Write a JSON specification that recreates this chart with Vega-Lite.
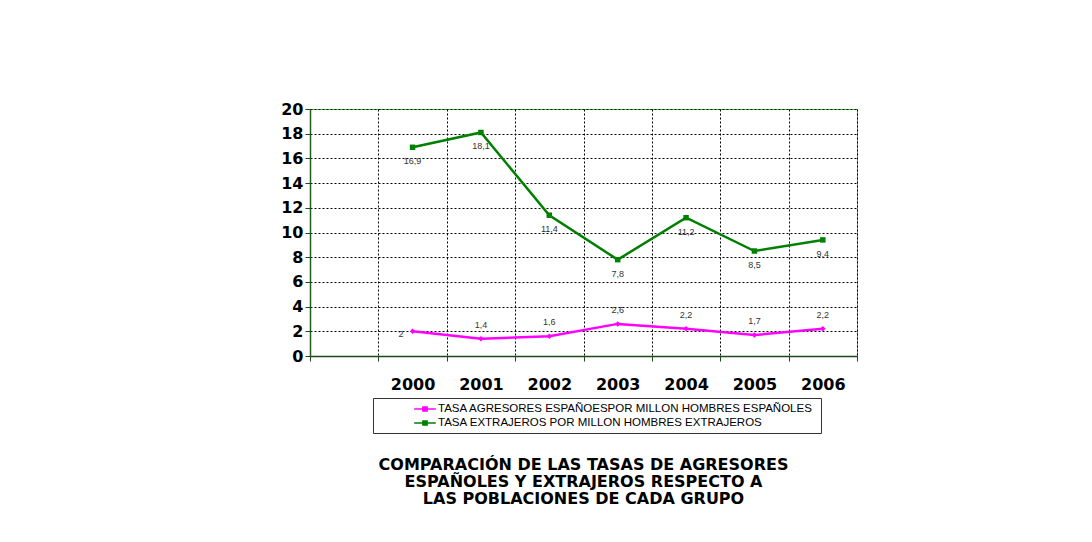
{
  "$schema": "https://vega.github.io/schema/vega-lite/v6.json",
  "autosize": {"type": "none"},
  "width": 547,
  "height": 247,
  "padding": {"left": 310, "top": 109, "right": 235, "bottom": 186},
  "background": "white",
  "config": {
    "locale": {"number": {"decimal": ",", "thousands": ".", "grouping": [3], "currency": ["", " €"]}},
    "view": {"stroke": "#22DD22", "strokeWidth": 1},
    "font": "Liberation Sans"
  },
  "title": {
    "text": ["COMPARACIÓN DE LAS TASAS DE AGRESORES", "ESPAÑOLES Y EXTRAJEROS RESPECTO A", "LAS POBLACIONES DE CADA GRUPO"],
    "orient": "bottom",
    "frame": "group",
    "anchor": "middle",
    "offset": 23,
    "font": "DejaVu Sans",
    "fontSize": 16,
    "fontWeight": "bold",
    "lineHeight": 17,
    "color": "black"
  },
  "data": {
    "values": [
      {"year": "2000", "serie": "TASA  AGRESORES ESPAÑOESPOR MILLON HOMBRES ESPAÑOLES", "value": 2},
      {"year": "2001", "serie": "TASA  AGRESORES ESPAÑOESPOR MILLON HOMBRES ESPAÑOLES", "value": 1.4},
      {"year": "2002", "serie": "TASA  AGRESORES ESPAÑOESPOR MILLON HOMBRES ESPAÑOLES", "value": 1.6},
      {"year": "2003", "serie": "TASA  AGRESORES ESPAÑOESPOR MILLON HOMBRES ESPAÑOLES", "value": 2.6},
      {"year": "2004", "serie": "TASA  AGRESORES ESPAÑOESPOR MILLON HOMBRES ESPAÑOLES", "value": 2.2},
      {"year": "2005", "serie": "TASA  AGRESORES ESPAÑOESPOR MILLON HOMBRES ESPAÑOLES", "value": 1.7},
      {"year": "2006", "serie": "TASA  AGRESORES ESPAÑOESPOR MILLON HOMBRES ESPAÑOLES", "value": 2.2},
      {"year": "2000", "serie": "TASA EXTRAJEROS POR MILLON HOMBRES EXTRAJEROS", "value": 16.9},
      {"year": "2001", "serie": "TASA EXTRAJEROS POR MILLON HOMBRES EXTRAJEROS", "value": 18.1},
      {"year": "2002", "serie": "TASA EXTRAJEROS POR MILLON HOMBRES EXTRAJEROS", "value": 11.4},
      {"year": "2003", "serie": "TASA EXTRAJEROS POR MILLON HOMBRES EXTRAJEROS", "value": 7.8},
      {"year": "2004", "serie": "TASA EXTRAJEROS POR MILLON HOMBRES EXTRAJEROS", "value": 11.2},
      {"year": "2005", "serie": "TASA EXTRAJEROS POR MILLON HOMBRES EXTRAJEROS", "value": 8.5},
      {"year": "2006", "serie": "TASA EXTRAJEROS POR MILLON HOMBRES EXTRAJEROS", "value": 9.4}
    ]
  },
  "encoding": {
    "x": {
      "field": "year",
      "type": "ordinal",
      "scale": {"type": "band", "domain": ["", "2000", "2001", "2002", "2003", "2004", "2005", "2006"], "paddingInner": 0, "paddingOuter": 0},
      "axis": {
        "title": null,
        "labelAngle": 0,
        "tickBand": "extent",
        "grid": true,
        "gridColor": "black",
        "gridDash": [2, 2],
        "gridWidth": 1,
        "domainColor": "#1A4A1A",
        "domainWidth": 1.5,
        "tickColor": "#1A4A1A",
        "tickSize": 5,
        "labelPadding": 15,
        "labelFont": "DejaVu Sans",
        "labelFontSize": 16,
        "labelFontWeight": "bold",
        "labelColor": "black"
      }
    },
    "y": {
      "field": "value",
      "type": "quantitative",
      "scale": {"domain": [0, 20], "nice": false},
      "axis": {
        "title": null,
        "values": [0, 2, 4, 6, 8, 10, 12, 14, 16, 18, 20],
        "grid": true,
        "gridColor": "black",
        "gridDash": [2, 2],
        "gridWidth": 1,
        "domainColor": "#1E5E1E",
        "domainWidth": 1.5,
        "tickColor": "#1A4A1A",
        "tickSize": 5,
        "labelPadding": 2,
        "labelFont": "DejaVu Sans",
        "labelFontSize": 16,
        "labelFontWeight": "bold",
        "labelColor": "black"
      }
    },
    "color": {
      "field": "serie",
      "type": "nominal",
      "scale": {
        "domain": ["TASA  AGRESORES ESPAÑOESPOR MILLON HOMBRES ESPAÑOLES", "TASA EXTRAJEROS POR MILLON HOMBRES EXTRAJEROS"],
        "range": ["#FF00FF", "#008000"]
      },
      "legend": {
        "title": null,
        "orient": "none",
        "legendX": 63,
        "legendY": 289,
        "direction": "vertical",
        "strokeColor": "#333333",
        "fillColor": "white",
        "padding": 4,
        "symbolOffset": 41,
        "symbolType": "M-1.8,0L1.8,0M-0.35,-0.35L0.35,-0.35L0.35,0.35L-0.35,0.35Z",
        "symbolSize": 144,
        "symbolStrokeWidth": 1.5,
        "labelOffset": 6,
        "labelFont": "Liberation Sans",
        "labelFontSize": 11.5,
        "labelColor": "black",
        "labelLimit": 600,
        "rowPadding": 1
      }
    }
  },
  "layer": [
    {"mark": {"type": "line", "strokeWidth": 2.5}},
    {"mark": {"type": "point", "filled": true, "opacity": 1, "size": 30, "shape": "square"}, "transform": [{"filter": "datum.value > 5"}]},
    {"mark": {"type": "point", "filled": true, "opacity": 1, "size": 30, "shape": "diamond"}, "transform": [{"filter": "datum.value < 5"}]},
    {
      "transform": [{"filter": "datum.value > 5"}],
      "mark": {"type": "text", "dy": 14, "fontSize": 9, "color": "#333333", "font": "Liberation Sans"},
      "encoding": {"text": {"field": "value", "type": "quantitative", "format": ".1~f"}, "color": {"value": "#333333"}}
    },
    {
      "transform": [{"filter": "datum.value < 5 && datum.year != '2000'"}],
      "mark": {"type": "text", "dy": -14, "fontSize": 9, "color": "#333333", "font": "Liberation Sans"},
      "encoding": {"text": {"field": "value", "type": "quantitative", "format": ".1~f"}, "color": {"value": "#333333"}}
    },
    {
      "transform": [{"filter": "datum.value < 5 && datum.year == '2000'"}],
      "mark": {"type": "text", "dx": -9, "dy": 3, "align": "right", "fontSize": 9, "color": "#333333", "font": "Liberation Sans"},
      "encoding": {"text": {"field": "value", "type": "quantitative", "format": ".1~f"}, "color": {"value": "#333333"}}
    }
  ]
}
